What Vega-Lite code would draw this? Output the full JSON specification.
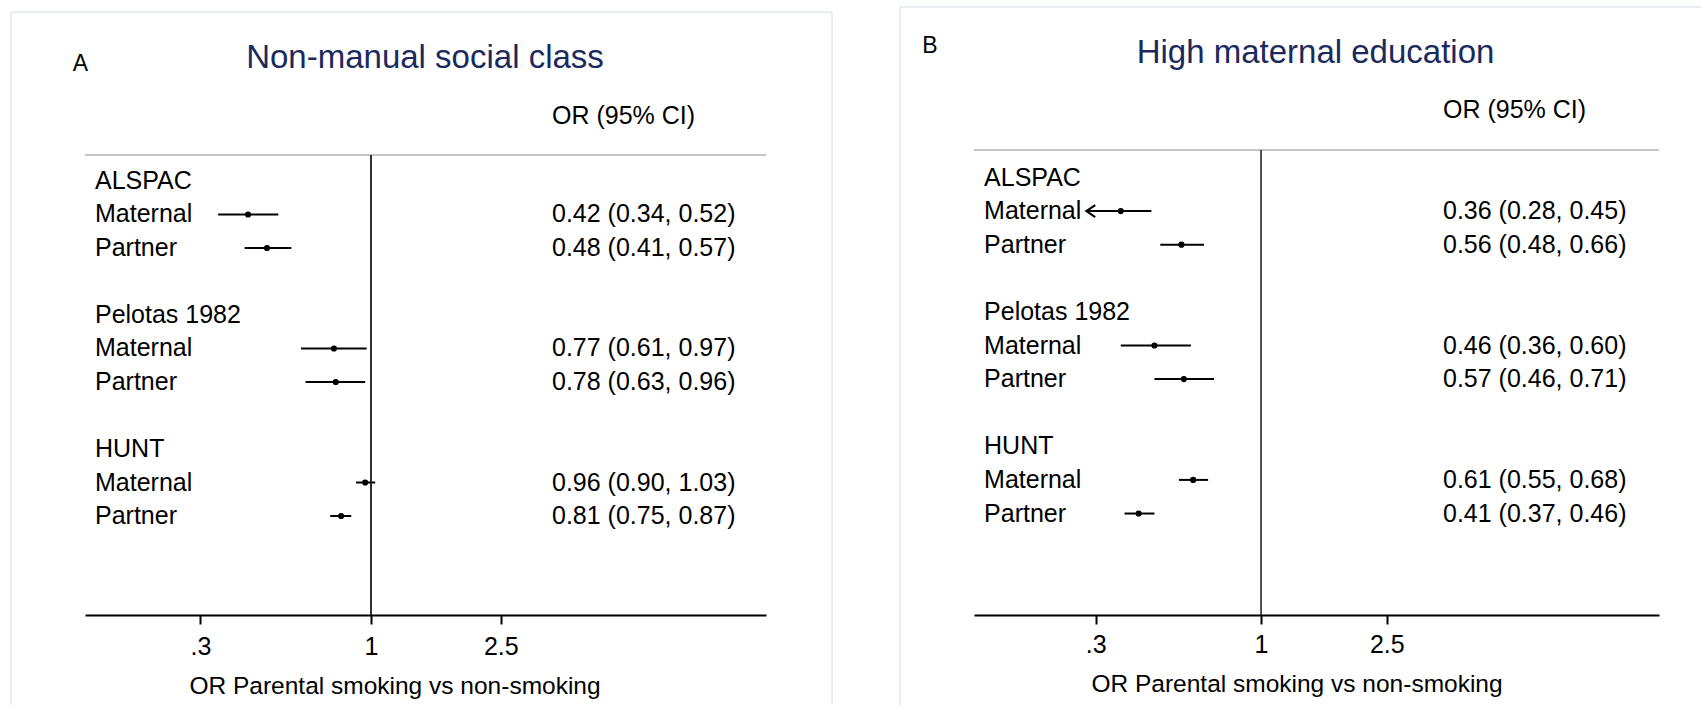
{
  "$schema": "https://vega.github.io/schema/vega-lite/v6.json",
  "autosize": {"type": "pad"},
  "padding": {"left": 10, "top": 6, "right": 0, "bottom": 0},
  "background": "white",
  "config": {
    "font": "Liberation Sans",
    "view": {"stroke": null},
    "text": {"font": "Liberation Sans", "fontSize": 25, "color": "#000000"},
    "axis": {"labelFont": "Liberation Sans", "titleFont": "Liberation Sans", "labelColor": "#000000", "titleColor": "#000000", "titleFontWeight": "normal", "grid": false}
  },
  "datasets": {
    "A": [
      {"row": 0, "label": "ALSPAC"},
      {"row": 1, "label": "Maternal", "cohort": "ALSPAC", "or": 0.42, "lo": 0.34, "hi": 0.52},
      {"row": 2, "label": "Partner", "cohort": "ALSPAC", "or": 0.48, "lo": 0.41, "hi": 0.57},
      {"row": 4, "label": "Pelotas 1982"},
      {"row": 5, "label": "Maternal", "cohort": "Pelotas 1982", "or": 0.77, "lo": 0.61, "hi": 0.97},
      {"row": 6, "label": "Partner", "cohort": "Pelotas 1982", "or": 0.78, "lo": 0.63, "hi": 0.96},
      {"row": 8, "label": "HUNT"},
      {"row": 9, "label": "Maternal", "cohort": "HUNT", "or": 0.96, "lo": 0.90, "hi": 1.03},
      {"row": 10, "label": "Partner", "cohort": "HUNT", "or": 0.81, "lo": 0.75, "hi": 0.87}
    ],
    "B": [
      {"row": 0, "label": "ALSPAC"},
      {"row": 1, "label": "Maternal", "cohort": "ALSPAC", "or": 0.36, "lo": 0.28, "hi": 0.45},
      {"row": 2, "label": "Partner", "cohort": "ALSPAC", "or": 0.56, "lo": 0.48, "hi": 0.66},
      {"row": 4, "label": "Pelotas 1982"},
      {"row": 5, "label": "Maternal", "cohort": "Pelotas 1982", "or": 0.46, "lo": 0.36, "hi": 0.60},
      {"row": 6, "label": "Partner", "cohort": "Pelotas 1982", "or": 0.57, "lo": 0.46, "hi": 0.71},
      {"row": 8, "label": "HUNT"},
      {"row": 9, "label": "Maternal", "cohort": "HUNT", "or": 0.61, "lo": 0.55, "hi": 0.68},
      {"row": 10, "label": "Partner", "cohort": "HUNT", "or": 0.41, "lo": 0.37, "hi": 0.46}
    ],
    "one": [{}]
  },
  "spacing": 208,
  "bounds": "flush",
  "hconcat": [
    {
      "width": 681,
      "height": 465,
      "data": {"name": "A"},
      "transform": [
        {"calculate": "isValid(datum.or) ? format(datum.or,'.2f') + ' (' + format(datum.lo,'.2f') + ', ' + format(datum.hi,'.2f') + ')' : ''", "as": "ci"}
      ],
      "layer": [
        {
          "transform": [{"filter": "isValid(datum.or)"}],
          "mark": {"type": "rule", "color": "#000000", "strokeWidth": 2},
          "encoding": {
            "x": {
              "field": "lo", "type": "quantitative",
              "scale": {"type": "log", "domain": [0.1329, 16.24], "nice": false},
              "axis": {
                "orient": "bottom", "values": [0.3, 1, 2.5],
                "labelExpr": "datum.value == 0.3 ? '.3' : datum.value == 1 ? '1' : '2.5'",
                "title": "OR Parental smoking vs non-smoking",
                "domainColor": "#000000", "domainWidth": 2,
                "tickColor": "#000000", "tickWidth": 2, "tickSize": 9,
                "labelFontSize": 25, "labelBaseline": "alphabetic", "labelPadding": 30, "labelFlush": false, "labelOverlap": false,
                "titleFontSize": 24.5, "titleX": 309.5, "titleY": 78, "titleAlign": "center", "titleBaseline": "alphabetic", "titleAnchor": null
              }
            },
            "x2": {"field": "hi"},
            "y": {"field": "row", "type": "quantitative", "scale": {"domain": [-0.925, 12.955], "reverse": true, "nice": false, "zero": false}, "axis": null}
          }
        },
        {
          "data": {"name": "one"},
          "mark": {"type": "rule", "color": "#e2e9ec", "strokeWidth": 1.5},
          "encoding": {
            "x": {"datum": 0.0788},
            "y": {"datum": -5.04, "axis": null},
            "y2": {"datum": 15.64}
          }
        },
        {
          "data": {"name": "one"},
          "mark": {"type": "rule", "color": "#e2e9ec", "strokeWidth": 1.5},
          "encoding": {
            "x": {"datum": 25.88},
            "y": {"datum": -5.04, "axis": null},
            "y2": {"datum": 15.64}
          }
        },
        {
          "data": {"name": "one"},
          "mark": {"type": "rule", "color": "#e2e9ec", "strokeWidth": 1.5},
          "encoding": {
            "x": {"datum": 0.0788},
            "x2": {"datum": 25.88},
            "y": {"datum": -5.04, "axis": null}
          }
        },
        {
          "data": {"name": "one"},
          "mark": {"type": "rule", "color": "#c6c6c6", "strokeWidth": 2},
          "encoding": {
            "x": {"datum": 0.1329},
            "x2": {"datum": 16.24},
            "y": {"datum": -0.776, "axis": null}
          }
        },
        {
          "data": {"name": "one"},
          "mark": {"type": "rule", "color": "#1a1a1a", "strokeWidth": 1.8},
          "encoding": {
            "x": {"datum": 1},
            "y": {"datum": -0.776, "axis": null},
            "y2": {"datum": 12.955}
          }
        },
        {
          "transform": [{"filter": "isValid(datum.or)"}],
          "mark": {"type": "point", "filled": true, "shape": "circle", "size": 38, "color": "#000000", "opacity": 1},
          "encoding": {
            "x": {"field": "or", "type": "quantitative"},
            "y": {"field": "row", "type": "quantitative", "axis": null}
          }
        },
        {
          "mark": {"type": "text", "align": "left", "baseline": "middle", "fontSize": 25},
          "encoding": {
            "x": {"datum": 0.1426},
            "y": {"field": "row", "type": "quantitative", "axis": null},
            "text": {"field": "label"}
          }
        },
        {
          "mark": {"type": "text", "align": "left", "baseline": "middle", "fontSize": 25},
          "encoding": {
            "x": {"datum": 3.587},
            "y": {"field": "row", "type": "quantitative", "axis": null},
            "text": {"field": "ci"}
          }
        },
        {
          "data": {"name": "one"},
          "mark": {"type": "text", "align": "left", "baseline": "alphabetic", "fontSize": 25},
          "encoding": {
            "x": {"datum": 3.587},
            "y": {"datum": -1.71, "axis": null},
            "text": {"value": "OR (95% CI)"}
          }
        },
        {
          "data": {"name": "one"},
          "mark": {"type": "text", "align": "center", "baseline": "alphabetic", "fontSize": 23},
          "encoding": {
            "x": {"datum": 0.1287},
            "y": {"datum": -3.284, "axis": null},
            "text": {"value": "A"}
          }
        },
        {
          "data": {"name": "one"},
          "mark": {"type": "text", "align": "center", "baseline": "alphabetic", "fontSize": 33, "color": "#1b2a5c"},
          "encoding": {
            "x": {"datum": 1.464},
            "y": {"datum": -3.382, "axis": null},
            "text": {"value": "Non-manual social class"}
          }
        }
      ]
    },
    {
      "width": 685,
      "height": 465,
      "data": {"name": "B"},
      "transform": [
        {"calculate": "isValid(datum.or) ? format(datum.or,'.2f') + ' (' + format(datum.lo,'.2f') + ', ' + format(datum.hi,'.2f') + ')' : ''", "as": "ci"}
      ],
      "layer": [
        {
          "transform": [{"filter": "isValid(datum.or)"}],
          "mark": {"type": "rule", "color": "#000000", "strokeWidth": 2},
          "encoding": {
            "x": {
              "field": "lo", "type": "quantitative",
              "scale": {"type": "log", "domain": [0.1236, 18.15], "nice": false},
              "axis": {
                "orient": "bottom", "values": [0.3, 1, 2.5],
                "labelExpr": "datum.value == 0.3 ? '.3' : datum.value == 1 ? '1' : '2.5'",
                "title": "OR Parental smoking vs non-smoking",
                "domainColor": "#000000", "domainWidth": 2,
                "tickColor": "#000000", "tickWidth": 2, "tickSize": 9,
                "labelFontSize": 25, "labelBaseline": "alphabetic", "labelPadding": 28, "labelFlush": false, "labelOverlap": false,
                "titleFontSize": 24.5, "titleX": 322.5, "titleY": 76, "titleAlign": "center", "titleBaseline": "alphabetic", "titleAnchor": null
              }
            },
            "x2": {"field": "hi"},
            "y": {"field": "row", "type": "quantitative", "scale": {"domain": [-0.8185, 13.02], "reverse": true, "nice": false, "zero": false}, "axis": null}
          }
        },
        {
          "data": {"name": "one"},
          "mark": {"type": "rule", "color": "#e2e9ec", "strokeWidth": 1.5},
          "encoding": {
            "x": {"datum": 0.0721},
            "y": {"datum": -5.074, "axis": null},
            "y2": {"datum": 15.7}
          }
        },
        {
          "data": {"name": "one"},
          "mark": {"type": "rule", "color": "#e2e9ec", "strokeWidth": 1.5},
          "encoding": {
            "x": {"datum": 0.0721},
            "x2": {"datum": 24.65},
            "y": {"datum": -5.074, "axis": null}
          }
        },
        {
          "data": {"name": "one"},
          "mark": {"type": "rule", "color": "#c6c6c6", "strokeWidth": 2},
          "encoding": {
            "x": {"datum": 0.1236},
            "x2": {"datum": 18.15},
            "y": {"datum": -0.8185, "axis": null}
          }
        },
        {
          "data": {"name": "one"},
          "mark": {"type": "rule", "color": "#1a1a1a", "strokeWidth": 1.5},
          "encoding": {
            "x": {"datum": 1},
            "y": {"datum": -0.8185, "axis": null},
            "y2": {"datum": 13.02}
          }
        },
        {
          "transform": [{"filter": "isValid(datum.or)"}],
          "mark": {"type": "point", "filled": true, "shape": "circle", "size": 38, "color": "#000000", "opacity": 1},
          "encoding": {
            "x": {"field": "or", "type": "quantitative"},
            "y": {"field": "row", "type": "quantitative", "axis": null}
          }
        },
        {
          "transform": [{"filter": "datum.row == 1"}],
          "mark": {"type": "point", "filled": false, "shape": "M 1.5 -1 L 0 0 L 1.5 1", "size": 144, "color": "#000000", "strokeWidth": 2, "opacity": 1},
          "encoding": {
            "x": {"field": "lo", "type": "quantitative"},
            "y": {"field": "row", "type": "quantitative", "axis": null}
          }
        },
        {
          "mark": {"type": "text", "align": "left", "baseline": "middle", "fontSize": 25},
          "encoding": {
            "x": {"datum": 0.133},
            "y": {"field": "row", "type": "quantitative", "axis": null},
            "text": {"field": "label"}
          }
        },
        {
          "mark": {"type": "text", "align": "left", "baseline": "middle", "fontSize": 25},
          "encoding": {
            "x": {"datum": 3.764},
            "y": {"field": "row", "type": "quantitative", "axis": null},
            "text": {"field": "ci"}
          }
        },
        {
          "data": {"name": "one"},
          "mark": {"type": "text", "align": "left", "baseline": "alphabetic", "fontSize": 25},
          "encoding": {
            "x": {"datum": 3.764},
            "y": {"datum": -1.762, "axis": null},
            "text": {"value": "OR (95% CI)"}
          }
        },
        {
          "data": {"name": "one"},
          "mark": {"type": "text", "align": "center", "baseline": "alphabetic", "fontSize": 23},
          "encoding": {
            "x": {"datum": 0.0897},
            "y": {"datum": -3.696, "axis": null},
            "text": {"value": "B"}
          }
        },
        {
          "data": {"name": "one"},
          "mark": {"type": "text", "align": "center", "baseline": "alphabetic", "fontSize": 33, "color": "#1b2a5c"},
          "encoding": {
            "x": {"datum": 1.487},
            "y": {"datum": -3.417, "axis": null},
            "text": {"value": "High maternal education"}
          }
        }
      ]
    }
  ]
}
